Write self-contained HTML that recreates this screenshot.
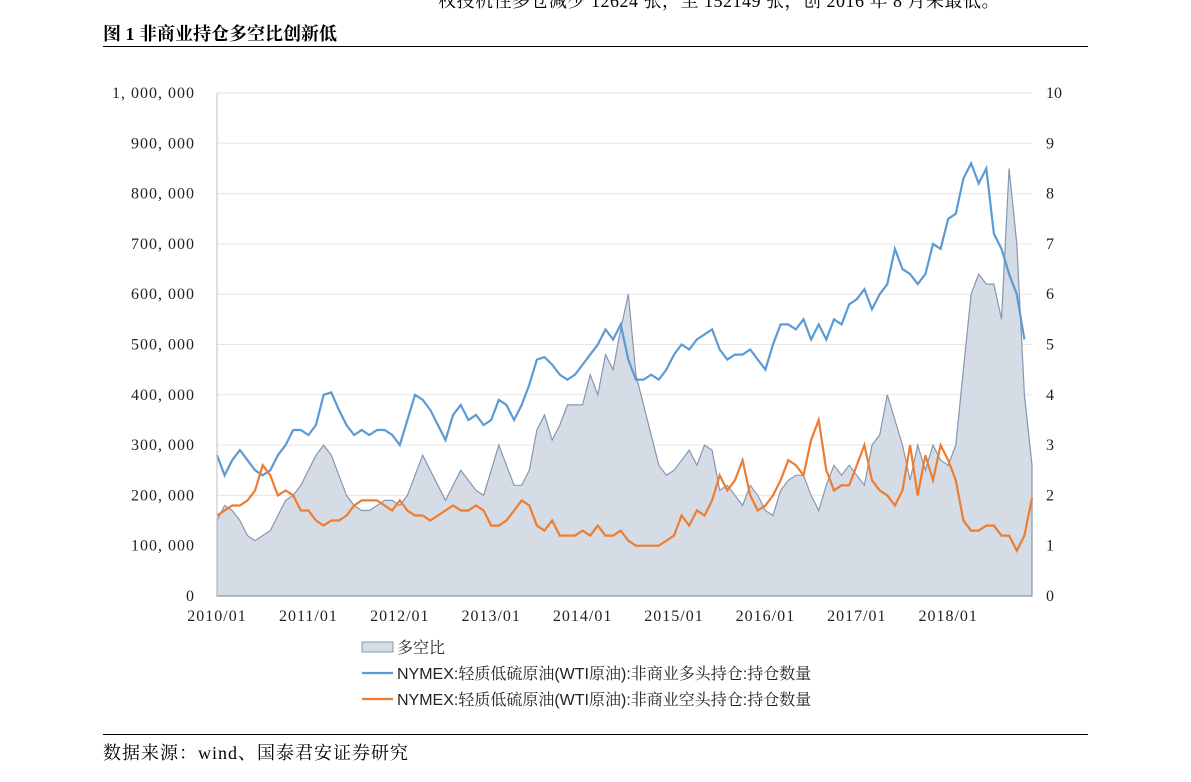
<!DOCTYPE html>
<html><head><meta charset="utf-8">
<style>
body{margin:0;background:#fff;width:1191px;height:782px;overflow:hidden;font-family:"Liberation Serif","Noto Serif CJK SC",serif;}
.abs{position:absolute;white-space:nowrap;}
</style></head><body>
<div class="abs" style="left:438px;top:-13px;font-size:18px;letter-spacing:0.5px;color:#000;">权投机性多仓减少 12624 张，至 152149 张，创 2016 年 8 月来最低。</div>
<div class="abs" style="left:103px;top:20px;font-size:18px;font-weight:bold;">图 1  非商业持仓多空比创新低</div>
<div class="abs" style="left:103px;top:46px;width:985px;height:1px;background:#000;"></div>
<svg class="abs" style="left:0;top:0" width="1191" height="782" id="chart"></svg>
<div class="abs" style="left:103px;top:734px;width:985px;height:1px;background:#000;"></div>
<div class="abs" style="left:103px;top:739px;font-size:18px;letter-spacing:1px;">数据来源：wind、国泰君安证券研究</div>
<script>
const xLabels=["2010/01","2011/01","2012/01","2013/01","2014/01","2015/01","2016/01","2017/01","2018/01"];
const leftTicks=["0","100,000","200,000","300,000","400,000","500,000","600,000","700,000","800,000","900,000","1,000,000"];
const rightTicks=["0","1","2","3","4","5","6","7","8","9","10"];
const longPos=[280,240,270,290,270,250,240,250,280,300,330,330,
320,340,400,405,370,340,320,330,320,330,330,320,
300,350,400,390,370,340,310,360,380,350,360,340,
350,390,380,350,380,420,470,475,460,440,430,440,
460,480,500,530,510,540,470,430,430,440,430,450,
480,500,490,510,520,530,490,470,480,480,490,470,
450,500,540,540,530,550,510,540,510,550,540,580,
590,610,570,600,620,690,650,640,620,640,700,690,
750,760,830,860,820,850,720,690,640,600,510];
const shortPos=[160,170,180,180,190,210,260,240,200,210,200,170,
170,150,140,150,150,160,180,190,190,190,180,170,
190,170,160,160,150,160,170,180,170,170,180,170,
140,140,150,170,190,180,140,130,150,120,120,120,
130,120,140,120,120,130,110,100,100,100,100,110,
120,160,140,170,160,190,240,210,230,270,200,170,
180,200,230,270,260,240,310,350,250,210,220,220,
260,300,230,210,200,180,210,300,200,280,230,300,
270,230,150,130,130,140,140,120,120,90,120,195];
const ratio=[1.5,1.8,1.7,1.5,1.2,1.1,1.2,1.3,1.6,1.9,2.0,2.2,
2.5,2.8,3.0,2.8,2.4,2.0,1.8,1.7,1.7,1.8,1.9,1.9,
1.8,2.0,2.4,2.8,2.5,2.2,1.9,2.2,2.5,2.3,2.1,2.0,
2.5,3.0,2.6,2.2,2.2,2.5,3.3,3.6,3.1,3.4,3.8,3.8,
3.8,4.4,4.0,4.8,4.5,5.3,6.0,4.4,3.8,3.2,2.6,2.4,
2.5,2.7,2.9,2.6,3.0,2.9,2.1,2.2,2.0,1.8,2.2,2.0,
1.7,1.6,2.1,2.3,2.4,2.4,2.0,1.7,2.2,2.6,2.4,2.6,
2.4,2.2,3.0,3.2,4.0,3.5,3.0,2.3,3.0,2.5,3.0,2.7,
2.6,3.0,4.5,6.0,6.4,6.2,6.2,5.5,8.5,7.0,4.0,2.6];
const svg=document.getElementById('chart');const NS="http://www.w3.org/2000/svg";
const X0=217,X1=1032,Y0=596,Y1=93;
const xs=i=>X0+i*(X1-X0)/(ratio.length-1);
const yL=v=>Y0-(v*1000)/1000000*(Y0-Y1);
const yR=v=>Y0-v/10*(Y0-Y1);
function mk(t,a){const e=document.createElementNS(NS,t);for(const k in a)e.setAttribute(k,a[k]);svg.appendChild(e);return e;}
leftTicks.forEach((t,i)=>{const y=Y0-i*(Y0-Y1)/10;
 const g=mk('line',{x1:X0,x2:X1,y1:y,y2:y,stroke:i?'#e6e6e6':'#bfbfbf','stroke-width':1});
 
 
 const a=mk('text',{x:195,y:y+5,'text-anchor':'end','font-size':16,'letter-spacing':1,fill:'#222'});a.textContent=t.replace(/,/g,', ');
 
 
 const b=mk('text',{x:1046,y:y+5,'font-size':16,fill:'#222'});b.textContent=rightTicks[i];
 
 
});
xLabels.forEach((t,i)=>{const x=X0+i*12*(X1-X0)/(ratio.length-1);
 const a=mk('text',{x:x,y:621,'text-anchor':'middle','font-size':16,'letter-spacing':1,fill:'#222'});a.textContent=t;
 
 
});
let d='M'+X0+','+Y0;ratio.forEach((v,i)=>d+=' L'+xs(i).toFixed(1)+','+yR(v).toFixed(1));d+=' L'+X1+','+Y0+'Z';
const area=mk('path',{d:d,fill:'#d6dce5',stroke:'#8497b0','stroke-width':1.2});


function line(arr,c,n){const p=mk('polyline',{points:arr.map((v,i)=>xs(i).toFixed(1)+','+yL(v).toFixed(1)).join(' '),fill:'none',stroke:c,'stroke-width':2.2});
 
 }
line(longPos,'#5b9bd5','long-position-line');
line(shortPos,'#ed7d31','short-position-line');
const ax=mk('line',{x1:X0,x2:X0,y1:Y1,y2:Y0,stroke:'#bfbfbf'});


const leg=[['多空比',null],['NYMEX:轻质低硫原油(WTI原油):非商业多头持仓:持仓数量','#5b9bd5'],['NYMEX:轻质低硫原油(WTI原油):非商业空头持仓:持仓数量','#ed7d31']];
leg.forEach((l,i)=>{const y=647+i*26;
 if(l[1]){const s=mk('line',{x1:362,x2:393,y1:y,y2:y,stroke:l[1],'stroke-width':2.2});}
 else{const s=mk('rect',{x:362,y:y-5,width:31,height:10,fill:'#d6dce5',stroke:'#8497b0'});}
 const t=mk('text',{x:397,y:y+6,'font-size':16,fill:'#222','font-family':'Liberation Sans, Noto Serif CJK SC, serif'});t.textContent=l[0];
 
 
});
</script>
</body></html>
